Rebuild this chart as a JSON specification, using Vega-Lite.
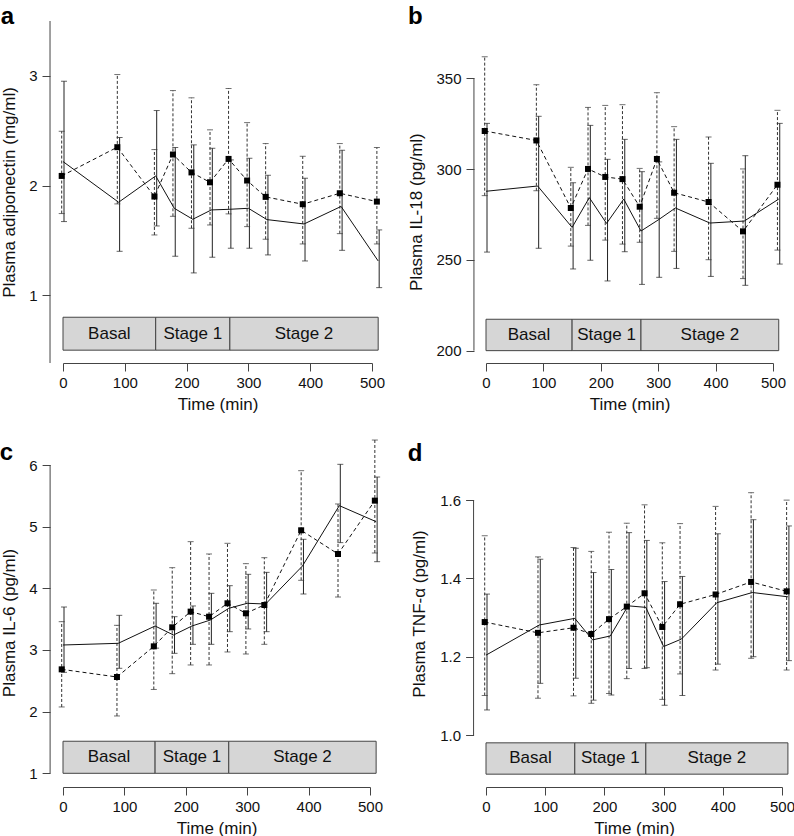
{
"$schema":"https://vega.github.io/schema/vega-lite/v6.json",
"autosize":{"type":"none"},
"padding":{"left":63,"top":21,"right":731,"bottom":815},
"background":"white",
"columns":2,
"spacing":{"row":102,"column":114},
"bounds":"flush",
"datasets":{
"stages":[{"stage":"Basal","start":0,"end":150},{"stage":"Stage 1","start":150,"end":270},{"stage":"Stage 2","start":270,"end":510}],
"adipo":[
{"time":0,"group":"A","mean":2.219,"lo":1.672,"hi":2.951},{"time":0,"group":"B","mean":2.088,"lo":1.745,"hi":2.495},
{"time":90,"group":"A","mean":1.848,"lo":1.401,"hi":2.438},{"time":90,"group":"B","mean":2.35,"lo":1.833,"hi":3.012},
{"time":150,"group":"A","mean":2.088,"lo":1.632,"hi":2.684},{"time":150,"group":"B","mean":1.9,"lo":1.55,"hi":2.328},
{"time":180,"group":"A","mean":1.793,"lo":1.356,"hi":2.347},{"time":180,"group":"B","mean":2.283,"lo":1.72,"hi":2.866},
{"time":210,"group":"A","mean":1.693,"lo":1.204,"hi":2.371},{"time":210,"group":"B","mean":2.12,"lo":1.611,"hi":2.8},
{"time":240,"group":"A","mean":1.778,"lo":1.347,"hi":2.34},{"time":240,"group":"B","mean":2.03,"lo":1.641,"hi":2.508},
{"time":270,"group":"A","mean":1.784,"lo":1.429,"hi":2.234},{"time":270,"group":"B","mean":2.243,"lo":1.742,"hi":2.885},
{"time":300,"group":"A","mean":1.793,"lo":1.429,"hi":2.249},{"time":300,"group":"B","mean":2.046,"lo":1.626,"hi":2.574},
{"time":330,"group":"A","mean":1.69,"lo":1.368,"hi":2.094},{"time":330,"group":"B","mean":1.897,"lo":1.511,"hi":2.383},
{"time":390,"group":"A","mean":1.65,"lo":1.313,"hi":2.067},{"time":390,"group":"B","mean":1.83,"lo":1.468,"hi":2.267},
{"time":450,"group":"A","mean":1.81,"lo":1.41,"hi":2.322},{"time":450,"group":"B","mean":1.93,"lo":1.562,"hi":2.383},
{"time":510,"group":"A","mean":1.313,"lo":1.07,"hi":1.596},{"time":510,"group":"B","mean":1.854,"lo":1.468,"hi":2.347}],
"il18":[
{"time":0,"group":"A","mean":287.8,"lo":254.3,"hi":325.2},{"time":0,"group":"B","mean":321.0,"lo":285.4,"hi":361.9},
{"time":90,"group":"A","mean":290.7,"lo":256.4,"hi":329.1},{"time":90,"group":"B","mean":315.8,"lo":288.1,"hi":346.5},
{"time":150,"group":"A","mean":267.9,"lo":245.0,"hi":292.5},{"time":150,"group":"B","mean":278.6,"lo":257.6,"hi":301.0},
{"time":180,"group":"A","mean":284.3,"lo":249.8,"hi":324.1},{"time":180,"group":"B","mean":300.1,"lo":269.0,"hi":334.0},
{"time":210,"group":"A","mean":270.1,"lo":238.4,"hi":305.4},{"time":210,"group":"B","mean":295.7,"lo":260.9,"hi":335.1},
{"time":240,"group":"A","mean":283.5,"lo":254.5,"hi":316.4},{"time":240,"group":"B","mean":294.5,"lo":258.7,"hi":335.5},
{"time":270,"group":"A","mean":265.9,"lo":236.5,"hi":298.6},{"time":270,"group":"B","mean":279.3,"lo":259.7,"hi":300.4},
{"time":300,"group":"A","mean":272.0,"lo":240.4,"hi":304.0},{"time":300,"group":"B","mean":305.6,"lo":272.9,"hi":342.1},
{"time":330,"group":"A","mean":278.6,"lo":245.3,"hi":316.4},{"time":330,"group":"B","mean":287.0,"lo":254.7,"hi":323.4},
{"time":390,"group":"A","mean":270.3,"lo":240.9,"hi":303.2},{"time":390,"group":"B","mean":281.9,"lo":250.1,"hi":317.7},
{"time":450,"group":"A","mean":271.4,"lo":236.0,"hi":307.4},{"time":450,"group":"B","mean":265.7,"lo":239.7,"hi":300.1},
{"time":510,"group":"A","mean":283.5,"lo":247.7,"hi":325.2},{"time":510,"group":"B","mean":291.4,"lo":255.4,"hi":332.4}],
"il6":[
{"time":0,"group":"A","mean":3.081,"lo":2.638,"hi":3.697},{"time":0,"group":"B","mean":2.686,"lo":2.076,"hi":3.459},
{"time":90,"group":"A","mean":3.108,"lo":2.703,"hi":3.562},{"time":90,"group":"B","mean":2.562,"lo":1.93,"hi":3.4},
{"time":150,"group":"A","mean":3.389,"lo":3.03,"hi":3.757},{"time":150,"group":"B","mean":3.059,"lo":2.36,"hi":3.973},
{"time":180,"group":"A","mean":3.243,"lo":2.946,"hi":3.54},{"time":180,"group":"B","mean":3.368,"lo":2.616,"hi":4.335},
{"time":210,"group":"A","mean":3.389,"lo":3.092,"hi":3.714},{"time":210,"group":"B","mean":3.622,"lo":2.757,"hi":4.757},
{"time":240,"group":"A","mean":3.486,"lo":3.092,"hi":3.919},{"time":240,"group":"B","mean":3.54,"lo":2.757,"hi":4.557},
{"time":270,"group":"A","mean":3.676,"lo":3.297,"hi":4.043},{"time":270,"group":"B","mean":3.757,"lo":2.968,"hi":4.73},
{"time":300,"group":"A","mean":3.757,"lo":3.341,"hi":4.227},{"time":300,"group":"B","mean":3.595,"lo":2.935,"hi":4.4},
{"time":330,"group":"A","mean":3.746,"lo":3.297,"hi":4.259},{"time":330,"group":"B","mean":3.73,"lo":3.092,"hi":4.497},
{"time":390,"group":"A","mean":4.362,"lo":3.908,"hi":4.795},{"time":390,"group":"B","mean":4.941,"lo":4.13,"hi":5.908},
{"time":450,"group":"A","mean":5.341,"lo":4.741,"hi":6.011},{"time":450,"group":"B","mean":4.557,"lo":3.859,"hi":5.368},
{"time":510,"group":"A","mean":5.081,"lo":4.432,"hi":5.805},{"time":510,"group":"B","mean":5.422,"lo":4.573,"hi":6.405}],
"tnf":[
{"time":0,"group":"A","mean":1.204,"lo":1.064,"hi":1.36},{"time":0,"group":"B","mean":1.2885,"lo":1.101,"hi":1.509},
{"time":90,"group":"A","mean":1.281,"lo":1.132,"hi":1.449},{"time":90,"group":"B","mean":1.261,"lo":1.094,"hi":1.455},
{"time":150,"group":"A","mean":1.298,"lo":1.145,"hi":1.477},{"time":150,"group":"B","mean":1.274,"lo":1.1,"hi":1.479},
{"time":180,"group":"A","mean":1.243,"lo":1.089,"hi":1.415},{"time":180,"group":"B","mean":1.258,"lo":1.081,"hi":1.469},
{"time":210,"group":"A","mean":1.253,"lo":1.102,"hi":1.423},{"time":210,"group":"B","mean":1.296,"lo":1.106,"hi":1.518},
{"time":240,"group":"A","mean":1.33,"lo":1.17,"hi":1.517},{"time":240,"group":"B","mean":1.328,"lo":1.144,"hi":1.541},
{"time":270,"group":"A","mean":1.326,"lo":1.172,"hi":1.497},{"time":270,"group":"B","mean":1.362,"lo":1.17,"hi":1.588},
{"time":300,"group":"A","mean":1.226,"lo":1.076,"hi":1.392},{"time":300,"group":"B","mean":1.276,"lo":1.091,"hi":1.491},
{"time":330,"group":"A","mean":1.245,"lo":1.101,"hi":1.405},{"time":330,"group":"B","mean":1.334,"lo":1.156,"hi":1.54},
{"time":390,"group":"A","mean":1.338,"lo":1.181,"hi":1.514},{"time":390,"group":"B","mean":1.359,"lo":1.166,"hi":1.584},
{"time":450,"group":"A","mean":1.364,"lo":1.2,"hi":1.55},{"time":450,"group":"B","mean":1.391,"lo":1.196,"hi":1.619},
{"time":510,"group":"A","mean":1.353,"lo":1.19,"hi":1.534},{"time":510,"group":"B","mean":1.367,"lo":1.166,"hi":1.6}]
},
"concat":[
{"width":309,"height":342,"title":{"text":"a","offset":-5,"dx":0,"dy":3},"data":{"name":"adipo"},
"layer":[
{"data":{"name":"stages"},"transform":[{"calculate":"(datum.start+datum.end)/2","as":"mid"}],"mark":{"type":"rect","fill":"#d6d6d6","stroke":"#444","strokeWidth":1},
"encoding":{"x":{"field":"start","type":"quantitative","scale":{"domain":[0,500],"nice":false,"zero":false},"axis":{"values":[0,100,200,300,400,500],"title":"Time (min)"}},"x2":{"field":"end"},
"y":{"datum":0.5,"type":"quantitative","scale":{"domain":[0.383,3.5],"nice":false,"zero":false},"axis":{"values":[1,2,3],"title":"Plasma  adiponectin (mg/ml)","offset":13,"titlePadding":10,"titleY":171}},"y2":{"datum":0.8}}},
{"data":{"name":"stages"},"transform":[{"calculate":"(datum.start+datum.end)/2","as":"mid"}],"mark":{"type":"text","fontSize":17,"color":"#111"},
"encoding":{"x":{"field":"mid","type":"quantitative","scale":{"domain":[0,500],"nice":false,"zero":false},"axis":{"values":[0,100,200,300,400,500],"title":"Time (min)"}},
"y":{"datum":0.65,"type":"quantitative","scale":{"domain":[0.383,3.5],"nice":false,"zero":false},"axis":{"values":[1,2,3],"title":"Plasma  adiponectin (mg/ml)","offset":13,"titlePadding":10,"titleY":171}},"text":{"field":"stage"}}},
{"data":{"values":[{}]},"mark":{"type":"rule","color":"#444","strokeWidth":1},
"encoding":{"x":{"datum":-21,"type":"quantitative","scale":{"domain":[0,500],"nice":false,"zero":false},"axis":{"values":[0,100,200,300,400,500],"title":"Time (min)"}},
"y":{"datum":0.383,"type":"quantitative","scale":{"domain":[0.383,3.5],"nice":false,"zero":false},"axis":{"values":[1,2,3],"title":"Plasma  adiponectin (mg/ml)","offset":13,"titlePadding":10,"titleY":171}},"y2":{"datum":3.5}}},
{"transform":[{"filter":"datum.group==='A'"}],"mark":{"type":"rule","color":"#222","strokeWidth":1,"xOffset":1},
"encoding":{"x":{"field":"time","type":"quantitative","scale":{"domain":[0,500],"nice":false,"zero":false},"axis":{"values":[0,100,200,300,400,500],"title":"Time (min)"}},
"y":{"field":"lo","type":"quantitative","scale":{"domain":[0.383,3.5],"nice":false,"zero":false},"axis":{"values":[1,2,3],"title":"Plasma  adiponectin (mg/ml)","offset":13,"titlePadding":10,"titleY":171}},"y2":{"field":"hi"}}},
{"transform":[{"filter":"datum.group==='A'"},{"fold":["lo","hi"],"as":["k","v"]}],"mark":{"type":"tick","orient":"horizontal","size":6,"thickness":1,"color":"#222","xOffset":1},
"encoding":{"x":{"field":"time","type":"quantitative","scale":{"domain":[0,500],"nice":false,"zero":false},"axis":{"values":[0,100,200,300,400,500],"title":"Time (min)"}},
"y":{"field":"v","type":"quantitative","scale":{"domain":[0.383,3.5],"nice":false,"zero":false},"axis":{"values":[1,2,3],"title":"Plasma  adiponectin (mg/ml)","offset":13,"titlePadding":10,"titleY":171}}}},
{"transform":[{"filter":"datum.group==='B'"}],"mark":{"type":"rule","color":"#333","strokeWidth":1,"strokeDash":[3,2],"xOffset":-1.3},
"encoding":{"x":{"field":"time","type":"quantitative","scale":{"domain":[0,500],"nice":false,"zero":false},"axis":{"values":[0,100,200,300,400,500],"title":"Time (min)"}},
"y":{"field":"lo","type":"quantitative","scale":{"domain":[0.383,3.5],"nice":false,"zero":false},"axis":{"values":[1,2,3],"title":"Plasma  adiponectin (mg/ml)","offset":13,"titlePadding":10,"titleY":171}},"y2":{"field":"hi"}}},
{"transform":[{"filter":"datum.group==='B'"},{"fold":["lo","hi"],"as":["k","v"]}],"mark":{"type":"tick","orient":"horizontal","size":6,"thickness":1,"color":"#333","xOffset":-1.3},
"encoding":{"x":{"field":"time","type":"quantitative","scale":{"domain":[0,500],"nice":false,"zero":false},"axis":{"values":[0,100,200,300,400,500],"title":"Time (min)"}},
"y":{"field":"v","type":"quantitative","scale":{"domain":[0.383,3.5],"nice":false,"zero":false},"axis":{"values":[1,2,3],"title":"Plasma  adiponectin (mg/ml)","offset":13,"titlePadding":10,"titleY":171}}}},
{"transform":[{"filter":"datum.group==='A'"}],"mark":{"type":"line","color":"#111","strokeWidth":1},
"encoding":{"x":{"field":"time","type":"quantitative","scale":{"domain":[0,500],"nice":false,"zero":false},"axis":{"values":[0,100,200,300,400,500],"title":"Time (min)"}},
"y":{"field":"mean","type":"quantitative","scale":{"domain":[0.383,3.5],"nice":false,"zero":false},"axis":{"values":[1,2,3],"title":"Plasma  adiponectin (mg/ml)","offset":13,"titlePadding":10,"titleY":171}}}},
{"transform":[{"filter":"datum.group==='B'"}],"mark":{"type":"line","color":"#111","strokeWidth":1,"strokeDash":[4,3],"xOffset":-1.3},
"encoding":{"x":{"field":"time","type":"quantitative","scale":{"domain":[0,500],"nice":false,"zero":false},"axis":{"values":[0,100,200,300,400,500],"title":"Time (min)"}},
"y":{"field":"mean","type":"quantitative","scale":{"domain":[0.383,3.5],"nice":false,"zero":false},"axis":{"values":[1,2,3],"title":"Plasma  adiponectin (mg/ml)","offset":13,"titlePadding":10,"titleY":171}}}},
{"transform":[{"filter":"datum.group==='B'"}],"mark":{"type":"point","shape":"square","filled":true,"size":36,"color":"#000","opacity":1,"xOffset":-1.3},
"encoding":{"x":{"field":"time","type":"quantitative","scale":{"domain":[0,500],"nice":false,"zero":false},"axis":{"values":[0,100,200,300,400,500],"title":"Time (min)"}},
"y":{"field":"mean","type":"quantitative","scale":{"domain":[0.383,3.5],"nice":false,"zero":false},"axis":{"values":[1,2,3],"title":"Plasma  adiponectin (mg/ml)","offset":13,"titlePadding":10,"titleY":171}}}}
]},
{"width":287,"height":342,"title":{"text":"b","offset":-5,"dx":0,"dy":3},"data":{"name":"il18"},
"layer":[
{"data":{"name":"stages"},"transform":[{"calculate":"(datum.start+datum.end)/2","as":"mid"}],"mark":{"type":"rect","fill":"#d6d6d6","stroke":"#444","strokeWidth":1},
"encoding":{"x":{"field":"start","type":"quantitative","scale":{"domain":[0,500],"nice":false,"zero":false},"axis":{"values":[0,100,200,300,400,500],"title":"Time (min)"}},"x2":{"field":"end"},
"y":{"datum":200,"type":"quantitative","scale":{"domain":[193.2,381.6],"nice":false,"zero":false},"axis":{"values":[200,250,300,350],"title":"Plasma IL-18 (pg/ml)","offset":12,"titlePadding":10,"titleY":190.6}},"y2":{"datum":217.3}}},
{"data":{"name":"stages"},"transform":[{"calculate":"(datum.start+datum.end)/2","as":"mid"}],"mark":{"type":"text","fontSize":17,"color":"#111"},
"encoding":{"x":{"field":"mid","type":"quantitative","scale":{"domain":[0,500],"nice":false,"zero":false},"axis":{"values":[0,100,200,300,400,500],"title":"Time (min)"}},
"y":{"datum":208.65,"type":"quantitative","scale":{"domain":[193.2,381.6],"nice":false,"zero":false},"axis":{"values":[200,250,300,350],"title":"Plasma IL-18 (pg/ml)","offset":12,"titlePadding":10,"titleY":190.6}},"text":{"field":"stage"}}},
{"data":{"values":[{}]},"mark":{"type":"rule","color":"#444","strokeWidth":1},
"encoding":{"x":{"datum":-21,"type":"quantitative","scale":{"domain":[0,500],"nice":false,"zero":false},"axis":{"values":[0,100,200,300,400,500],"title":"Time (min)"}},
"y":{"datum":200,"type":"quantitative","scale":{"domain":[193.2,381.6],"nice":false,"zero":false},"axis":{"values":[200,250,300,350],"title":"Plasma IL-18 (pg/ml)","offset":12,"titlePadding":10,"titleY":190.6}},"y2":{"datum":350}}},
{"transform":[{"filter":"datum.group==='A'"}],"mark":{"type":"rule","color":"#222","strokeWidth":1,"xOffset":1},
"encoding":{"x":{"field":"time","type":"quantitative","scale":{"domain":[0,500],"nice":false,"zero":false},"axis":{"values":[0,100,200,300,400,500],"title":"Time (min)"}},
"y":{"field":"lo","type":"quantitative","scale":{"domain":[193.2,381.6],"nice":false,"zero":false},"axis":{"values":[200,250,300,350],"title":"Plasma IL-18 (pg/ml)","offset":12,"titlePadding":10,"titleY":190.6}},"y2":{"field":"hi"}}},
{"transform":[{"filter":"datum.group==='A'"},{"fold":["lo","hi"],"as":["k","v"]}],"mark":{"type":"tick","orient":"horizontal","size":6,"thickness":1,"color":"#222","xOffset":1},
"encoding":{"x":{"field":"time","type":"quantitative","scale":{"domain":[0,500],"nice":false,"zero":false},"axis":{"values":[0,100,200,300,400,500],"title":"Time (min)"}},
"y":{"field":"v","type":"quantitative","scale":{"domain":[193.2,381.6],"nice":false,"zero":false},"axis":{"values":[200,250,300,350],"title":"Plasma IL-18 (pg/ml)","offset":12,"titlePadding":10,"titleY":190.6}}}},
{"transform":[{"filter":"datum.group==='B'"}],"mark":{"type":"rule","color":"#333","strokeWidth":1,"strokeDash":[3,2],"xOffset":-1.3},
"encoding":{"x":{"field":"time","type":"quantitative","scale":{"domain":[0,500],"nice":false,"zero":false},"axis":{"values":[0,100,200,300,400,500],"title":"Time (min)"}},
"y":{"field":"lo","type":"quantitative","scale":{"domain":[193.2,381.6],"nice":false,"zero":false},"axis":{"values":[200,250,300,350],"title":"Plasma IL-18 (pg/ml)","offset":12,"titlePadding":10,"titleY":190.6}},"y2":{"field":"hi"}}},
{"transform":[{"filter":"datum.group==='B'"},{"fold":["lo","hi"],"as":["k","v"]}],"mark":{"type":"tick","orient":"horizontal","size":6,"thickness":1,"color":"#333","xOffset":-1.3},
"encoding":{"x":{"field":"time","type":"quantitative","scale":{"domain":[0,500],"nice":false,"zero":false},"axis":{"values":[0,100,200,300,400,500],"title":"Time (min)"}},
"y":{"field":"v","type":"quantitative","scale":{"domain":[193.2,381.6],"nice":false,"zero":false},"axis":{"values":[200,250,300,350],"title":"Plasma IL-18 (pg/ml)","offset":12,"titlePadding":10,"titleY":190.6}}}},
{"transform":[{"filter":"datum.group==='A'"}],"mark":{"type":"line","color":"#111","strokeWidth":1},
"encoding":{"x":{"field":"time","type":"quantitative","scale":{"domain":[0,500],"nice":false,"zero":false},"axis":{"values":[0,100,200,300,400,500],"title":"Time (min)"}},
"y":{"field":"mean","type":"quantitative","scale":{"domain":[193.2,381.6],"nice":false,"zero":false},"axis":{"values":[200,250,300,350],"title":"Plasma IL-18 (pg/ml)","offset":12,"titlePadding":10,"titleY":190.6}}}},
{"transform":[{"filter":"datum.group==='B'"}],"mark":{"type":"line","color":"#111","strokeWidth":1,"strokeDash":[4,3],"xOffset":-1.3},
"encoding":{"x":{"field":"time","type":"quantitative","scale":{"domain":[0,500],"nice":false,"zero":false},"axis":{"values":[0,100,200,300,400,500],"title":"Time (min)"}},
"y":{"field":"mean","type":"quantitative","scale":{"domain":[193.2,381.6],"nice":false,"zero":false},"axis":{"values":[200,250,300,350],"title":"Plasma IL-18 (pg/ml)","offset":12,"titlePadding":10,"titleY":190.6}}}},
{"transform":[{"filter":"datum.group==='B'"}],"mark":{"type":"point","shape":"square","filled":true,"size":36,"color":"#000","opacity":1,"xOffset":-1.3},
"encoding":{"x":{"field":"time","type":"quantitative","scale":{"domain":[0,500],"nice":false,"zero":false},"axis":{"values":[0,100,200,300,400,500],"title":"Time (min)"}},
"y":{"field":"mean","type":"quantitative","scale":{"domain":[193.2,381.6],"nice":false,"zero":false},"axis":{"values":[200,250,300,350],"title":"Plasma IL-18 (pg/ml)","offset":12,"titlePadding":10,"titleY":190.6}}}}
]},
{"width":307,"height":322,"title":{"text":"c","offset":-22,"dx":-1,"dy":3},"data":{"name":"il6"},
"layer":[
{"data":{"name":"stages"},"transform":[{"calculate":"(datum.start+datum.end)/2","as":"mid"}],"mark":{"type":"rect","fill":"#d6d6d6","stroke":"#444","strokeWidth":1},
"encoding":{"x":{"field":"start","type":"quantitative","scale":{"domain":[0,500],"nice":false,"zero":false},"axis":{"values":[0,100,200,300,400,500],"title":"Time (min)"}},"x2":{"field":"end"},
"y":{"datum":1.0,"type":"quantitative","scale":{"domain":[0.778,6],"nice":false,"zero":false},"axis":{"values":[1,2,3,4,5,6],"title":"Plasma IL-6 (pg/ml)","offset":12.9,"titlePadding":10,"titleY":157.5}},"y2":{"datum":1.52}}},
{"data":{"name":"stages"},"transform":[{"calculate":"(datum.start+datum.end)/2","as":"mid"}],"mark":{"type":"text","fontSize":17,"color":"#111"},
"encoding":{"x":{"field":"mid","type":"quantitative","scale":{"domain":[0,500],"nice":false,"zero":false},"axis":{"values":[0,100,200,300,400,500],"title":"Time (min)"}},
"y":{"datum":1.26,"type":"quantitative","scale":{"domain":[0.778,6],"nice":false,"zero":false},"axis":{"values":[1,2,3,4,5,6],"title":"Plasma IL-6 (pg/ml)","offset":12.9,"titlePadding":10,"titleY":157.5}},"text":{"field":"stage"}}},
{"data":{"values":[{}]},"mark":{"type":"rule","color":"#444","strokeWidth":1},
"encoding":{"x":{"datum":-21,"type":"quantitative","scale":{"domain":[0,500],"nice":false,"zero":false},"axis":{"values":[0,100,200,300,400,500],"title":"Time (min)"}},
"y":{"datum":1,"type":"quantitative","scale":{"domain":[0.778,6],"nice":false,"zero":false},"axis":{"values":[1,2,3,4,5,6],"title":"Plasma IL-6 (pg/ml)","offset":12.9,"titlePadding":10,"titleY":157.5}},"y2":{"datum":6}}},
{"transform":[{"filter":"datum.group==='A'"}],"mark":{"type":"rule","color":"#222","strokeWidth":1,"xOffset":1},
"encoding":{"x":{"field":"time","type":"quantitative","scale":{"domain":[0,500],"nice":false,"zero":false},"axis":{"values":[0,100,200,300,400,500],"title":"Time (min)"}},
"y":{"field":"lo","type":"quantitative","scale":{"domain":[0.778,6],"nice":false,"zero":false},"axis":{"values":[1,2,3,4,5,6],"title":"Plasma IL-6 (pg/ml)","offset":12.9,"titlePadding":10,"titleY":157.5}},"y2":{"field":"hi"}}},
{"transform":[{"filter":"datum.group==='A'"},{"fold":["lo","hi"],"as":["k","v"]}],"mark":{"type":"tick","orient":"horizontal","size":6,"thickness":1,"color":"#222","xOffset":1},
"encoding":{"x":{"field":"time","type":"quantitative","scale":{"domain":[0,500],"nice":false,"zero":false},"axis":{"values":[0,100,200,300,400,500],"title":"Time (min)"}},
"y":{"field":"v","type":"quantitative","scale":{"domain":[0.778,6],"nice":false,"zero":false},"axis":{"values":[1,2,3,4,5,6],"title":"Plasma IL-6 (pg/ml)","offset":12.9,"titlePadding":10,"titleY":157.5}}}},
{"transform":[{"filter":"datum.group==='B'"}],"mark":{"type":"rule","color":"#333","strokeWidth":1,"strokeDash":[3,2],"xOffset":-1.3},
"encoding":{"x":{"field":"time","type":"quantitative","scale":{"domain":[0,500],"nice":false,"zero":false},"axis":{"values":[0,100,200,300,400,500],"title":"Time (min)"}},
"y":{"field":"lo","type":"quantitative","scale":{"domain":[0.778,6],"nice":false,"zero":false},"axis":{"values":[1,2,3,4,5,6],"title":"Plasma IL-6 (pg/ml)","offset":12.9,"titlePadding":10,"titleY":157.5}},"y2":{"field":"hi"}}},
{"transform":[{"filter":"datum.group==='B'"},{"fold":["lo","hi"],"as":["k","v"]}],"mark":{"type":"tick","orient":"horizontal","size":6,"thickness":1,"color":"#333","xOffset":-1.3},
"encoding":{"x":{"field":"time","type":"quantitative","scale":{"domain":[0,500],"nice":false,"zero":false},"axis":{"values":[0,100,200,300,400,500],"title":"Time (min)"}},
"y":{"field":"v","type":"quantitative","scale":{"domain":[0.778,6],"nice":false,"zero":false},"axis":{"values":[1,2,3,4,5,6],"title":"Plasma IL-6 (pg/ml)","offset":12.9,"titlePadding":10,"titleY":157.5}}}},
{"transform":[{"filter":"datum.group==='A'"}],"mark":{"type":"line","color":"#111","strokeWidth":1},
"encoding":{"x":{"field":"time","type":"quantitative","scale":{"domain":[0,500],"nice":false,"zero":false},"axis":{"values":[0,100,200,300,400,500],"title":"Time (min)"}},
"y":{"field":"mean","type":"quantitative","scale":{"domain":[0.778,6],"nice":false,"zero":false},"axis":{"values":[1,2,3,4,5,6],"title":"Plasma IL-6 (pg/ml)","offset":12.9,"titlePadding":10,"titleY":157.5}}}},
{"transform":[{"filter":"datum.group==='B'"}],"mark":{"type":"line","color":"#111","strokeWidth":1,"strokeDash":[4,3],"xOffset":-1.3},
"encoding":{"x":{"field":"time","type":"quantitative","scale":{"domain":[0,500],"nice":false,"zero":false},"axis":{"values":[0,100,200,300,400,500],"title":"Time (min)"}},
"y":{"field":"mean","type":"quantitative","scale":{"domain":[0.778,6],"nice":false,"zero":false},"axis":{"values":[1,2,3,4,5,6],"title":"Plasma IL-6 (pg/ml)","offset":12.9,"titlePadding":10,"titleY":157.5}}}},
{"transform":[{"filter":"datum.group==='B'"}],"mark":{"type":"point","shape":"square","filled":true,"size":36,"color":"#000","opacity":1,"xOffset":-1.3},
"encoding":{"x":{"field":"time","type":"quantitative","scale":{"domain":[0,500],"nice":false,"zero":false},"axis":{"values":[0,100,200,300,400,500],"title":"Time (min)"}},
"y":{"field":"mean","type":"quantitative","scale":{"domain":[0.778,6],"nice":false,"zero":false},"axis":{"values":[1,2,3,4,5,6],"title":"Plasma IL-6 (pg/ml)","offset":12.9,"titlePadding":10,"titleY":157.5}}}}
]},
{"width":296,"height":322,"title":{"text":"d","offset":1,"dx":-3,"dy":2},"data":{"name":"tnf"},
"layer":[
{"data":{"name":"stages"},"transform":[{"calculate":"(datum.start+datum.end)/2","as":"mid"}],"mark":{"type":"rect","fill":"#d6d6d6","stroke":"#444","strokeWidth":1},
"encoding":{"x":{"field":"start","type":"quantitative","scale":{"domain":[0,500],"nice":false,"zero":false},"axis":{"values":[0,100,200,300,400,500],"title":"Time (min)"}},"x2":{"field":"end"},
"y":{"datum":0.9,"type":"quantitative","scale":{"domain":[0.8672,1.6897],"nice":false,"zero":false},"axis":{"values":[1,1.2,1.4,1.6],"format":".1f","title":"Plasma TNF-α (pg/ml)","offset":12.4,"titlePadding":11,"titleY":148.5}},"y2":{"datum":0.98}}},
{"data":{"name":"stages"},"transform":[{"calculate":"(datum.start+datum.end)/2","as":"mid"}],"mark":{"type":"text","fontSize":17,"color":"#111"},
"encoding":{"x":{"field":"mid","type":"quantitative","scale":{"domain":[0,500],"nice":false,"zero":false},"axis":{"values":[0,100,200,300,400,500],"title":"Time (min)"}},
"y":{"datum":0.94,"type":"quantitative","scale":{"domain":[0.8672,1.6897],"nice":false,"zero":false},"axis":{"values":[1,1.2,1.4,1.6],"format":".1f","title":"Plasma TNF-α (pg/ml)","offset":12.4,"titlePadding":11,"titleY":148.5}},"text":{"field":"stage"}}},
{"data":{"values":[{}]},"mark":{"type":"rule","color":"#444","strokeWidth":1},
"encoding":{"x":{"datum":-21,"type":"quantitative","scale":{"domain":[0,500],"nice":false,"zero":false},"axis":{"values":[0,100,200,300,400,500],"title":"Time (min)"}},
"y":{"datum":1.0,"type":"quantitative","scale":{"domain":[0.8672,1.6897],"nice":false,"zero":false},"axis":{"values":[1,1.2,1.4,1.6],"format":".1f","title":"Plasma TNF-α (pg/ml)","offset":12.4,"titlePadding":11,"titleY":148.5}},"y2":{"datum":1.6}}},
{"transform":[{"filter":"datum.group==='A'"}],"mark":{"type":"rule","color":"#222","strokeWidth":1,"xOffset":1},
"encoding":{"x":{"field":"time","type":"quantitative","scale":{"domain":[0,500],"nice":false,"zero":false},"axis":{"values":[0,100,200,300,400,500],"title":"Time (min)"}},
"y":{"field":"lo","type":"quantitative","scale":{"domain":[0.8672,1.6897],"nice":false,"zero":false},"axis":{"values":[1,1.2,1.4,1.6],"format":".1f","title":"Plasma TNF-α (pg/ml)","offset":12.4,"titlePadding":11,"titleY":148.5}},"y2":{"field":"hi"}}},
{"transform":[{"filter":"datum.group==='A'"},{"fold":["lo","hi"],"as":["k","v"]}],"mark":{"type":"tick","orient":"horizontal","size":6,"thickness":1,"color":"#222","xOffset":1},
"encoding":{"x":{"field":"time","type":"quantitative","scale":{"domain":[0,500],"nice":false,"zero":false},"axis":{"values":[0,100,200,300,400,500],"title":"Time (min)"}},
"y":{"field":"v","type":"quantitative","scale":{"domain":[0.8672,1.6897],"nice":false,"zero":false},"axis":{"values":[1,1.2,1.4,1.6],"format":".1f","title":"Plasma TNF-α (pg/ml)","offset":12.4,"titlePadding":11,"titleY":148.5}}}},
{"transform":[{"filter":"datum.group==='B'"}],"mark":{"type":"rule","color":"#333","strokeWidth":1,"strokeDash":[3,2],"xOffset":-1.3},
"encoding":{"x":{"field":"time","type":"quantitative","scale":{"domain":[0,500],"nice":false,"zero":false},"axis":{"values":[0,100,200,300,400,500],"title":"Time (min)"}},
"y":{"field":"lo","type":"quantitative","scale":{"domain":[0.8672,1.6897],"nice":false,"zero":false},"axis":{"values":[1,1.2,1.4,1.6],"format":".1f","title":"Plasma TNF-α (pg/ml)","offset":12.4,"titlePadding":11,"titleY":148.5}},"y2":{"field":"hi"}}},
{"transform":[{"filter":"datum.group==='B'"},{"fold":["lo","hi"],"as":["k","v"]}],"mark":{"type":"tick","orient":"horizontal","size":6,"thickness":1,"color":"#333","xOffset":-1.3},
"encoding":{"x":{"field":"time","type":"quantitative","scale":{"domain":[0,500],"nice":false,"zero":false},"axis":{"values":[0,100,200,300,400,500],"title":"Time (min)"}},
"y":{"field":"v","type":"quantitative","scale":{"domain":[0.8672,1.6897],"nice":false,"zero":false},"axis":{"values":[1,1.2,1.4,1.6],"format":".1f","title":"Plasma TNF-α (pg/ml)","offset":12.4,"titlePadding":11,"titleY":148.5}}}},
{"transform":[{"filter":"datum.group==='A'"}],"mark":{"type":"line","color":"#111","strokeWidth":1},
"encoding":{"x":{"field":"time","type":"quantitative","scale":{"domain":[0,500],"nice":false,"zero":false},"axis":{"values":[0,100,200,300,400,500],"title":"Time (min)"}},
"y":{"field":"mean","type":"quantitative","scale":{"domain":[0.8672,1.6897],"nice":false,"zero":false},"axis":{"values":[1,1.2,1.4,1.6],"format":".1f","title":"Plasma TNF-α (pg/ml)","offset":12.4,"titlePadding":11,"titleY":148.5}}}},
{"transform":[{"filter":"datum.group==='B'"}],"mark":{"type":"line","color":"#111","strokeWidth":1,"strokeDash":[4,3],"xOffset":-1.3},
"encoding":{"x":{"field":"time","type":"quantitative","scale":{"domain":[0,500],"nice":false,"zero":false},"axis":{"values":[0,100,200,300,400,500],"title":"Time (min)"}},
"y":{"field":"mean","type":"quantitative","scale":{"domain":[0.8672,1.6897],"nice":false,"zero":false},"axis":{"values":[1,1.2,1.4,1.6],"format":".1f","title":"Plasma TNF-α (pg/ml)","offset":12.4,"titlePadding":11,"titleY":148.5}}}},
{"transform":[{"filter":"datum.group==='B'"}],"mark":{"type":"point","shape":"square","filled":true,"size":36,"color":"#000","opacity":1,"xOffset":-1.3},
"encoding":{"x":{"field":"time","type":"quantitative","scale":{"domain":[0,500],"nice":false,"zero":false},"axis":{"values":[0,100,200,300,400,500],"title":"Time (min)"}},
"y":{"field":"mean","type":"quantitative","scale":{"domain":[0.8672,1.6897],"nice":false,"zero":false},"axis":{"values":[1,1.2,1.4,1.6],"format":".1f","title":"Plasma TNF-α (pg/ml)","offset":12.4,"titlePadding":11,"titleY":148.5}}}}
]}
],
"config":{
"view":{"stroke":null},
"font":"Liberation Sans",
"text":{"font":"Liberation Sans"},
"title":{"font":"Liberation Sans","fontSize":24,"fontWeight":"bold","anchor":"start","frame":"bounds","color":"#000","baseline":"alphabetic"},
"axis":{"labelFont":"Liberation Sans","titleFont":"Liberation Sans","labelFontSize":15,"titleFontSize":17,"titleFontWeight":"normal","labelColor":"#111","titleColor":"#111","tickColor":"#444","domainColor":"#444","tickSize":8,"tickWidth":1,"domainWidth":1,"grid":false,"labelOverlap":false,"labelFlush":false},
"axisX":{"labelPadding":4,"titlePadding":6},
"axisY":{"labelPadding":5,"domain":false,"labelAngle":0}
}
}
